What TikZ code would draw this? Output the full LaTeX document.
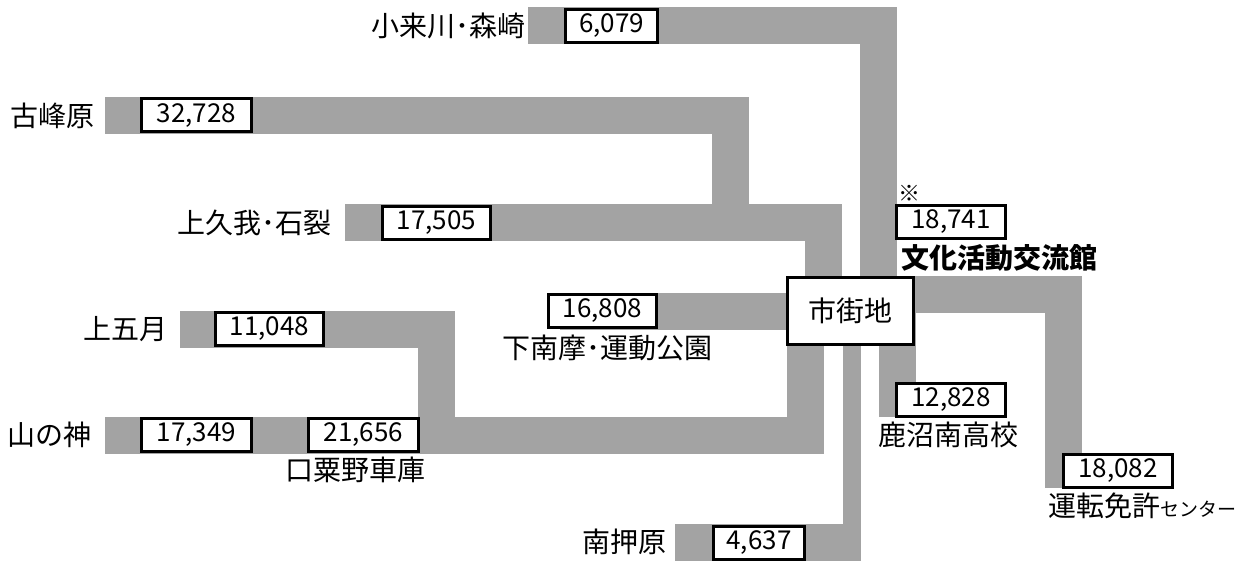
\documentclass[tikz,border=0pt]{standalone}
\usepackage{fontspec}
\setmainfont{Noto Sans CJK JP}
\definecolor{bandgray}{gray}{0.64}
\begin{document}
\begin{tikzpicture}[x=1pt,y=-1pt,
  band/.style={draw=bandgray,line width=37pt,line join=miter},
  numbox/.style={draw,line width=3pt,fill=white,inner sep=0pt,minimum height=33pt,font=\fontsize{26}{28}\selectfont},
  place/.style={inner sep=0pt,font=\fontsize{28}{30}\selectfont}]
\useasboundingbox (0,0) rectangle (1252,561);
\coordinate (cc) at (850.5,311);
% routes into the town centre
\draw[band] (528,25.5) -- (878.5,25.5) -- (878.5,25.5 |- cc);
\draw[band] (105,115.5) -- (730.5,115.5) -- (730.5,223);
\draw[band] (345,223) -- (823,223) -- (823,223 |- cc);
\draw[band] (560,311) -- (cc);
\draw[band] (180,329) -- (436,329) -- (436,435) -- (805,435) -- (805,435 |- cc);
\draw[band] (105,435) -- (436,435);
\draw[band,line width=18pt] (852,311) -- (852,542);
\draw[band] (675,542.5) -- (861,542.5);
\draw[band] (897,311) -- (897,417);
\draw[band] (cc |- 0,294) -- (1063,294) -- (1063,488);
% counts
\node[numbox,minimum width=126pt,minimum height=67pt,font=\fontsize{28}{30}\selectfont] (city) at (cc) {市街地};
\node[numbox,minimum width=92pt] (n6079) at (611.5,26) {6,079};
\node[numbox,minimum width=110pt] (n32728) at (196.5,115.5) {32,728};
\node[numbox,minimum width=108pt] (n17505) at (436.5,223) {17,505};
\node[numbox,minimum width=108pt] (n16808) at (602.5,311) {16,808};
\node[numbox,minimum width=108pt] (n11048) at (269.5,329) {11,048};
\node[numbox,minimum width=110pt] (n17349) at (196.5,435) {17,349};
\node[numbox,minimum width=110pt] (n21656) at (363.5,435) {21,656};
\node[numbox,minimum width=91pt] (n4637) at (759,542.5) {4,637};
\node[numbox,minimum width=109pt] (n12828) at (951,399.5) {12,828};
\node[numbox,minimum width=109pt] (n18741) at (951,222) {18,741};
\node[numbox,minimum width=109pt] (n18082) at (1118,470.5) {18,082};
% place names
\node[place,anchor=east] (kogawa) at (526,26) {小来川･森崎};
\node[place,anchor=east] (kobu) at (95,115.5) {古峰原};
\node[place,anchor=east] (kamikuga) at (332,223) {上久我･石裂};
\node[place,anchor=east] (satsuki) at (168,329) {上五月};
\node[place,anchor=east] (yamanokami) at (92,435) {山の神};
\node[place] (kuchiawano) at (355,470) {口粟野車庫};
\node[place] (shimonanma) at (607,348) {下南摩･運動公園};
\node[place,anchor=east] (oshihara) at (667,542) {南押原};
\node[place,anchor=west] (nankou) at (878,435) {鹿沼南高校};
\node[place,anchor=west] (menkyo) at (1048,506) {運転免許{\fontsize{19}{20}\selectfont センター}};
\node[inner sep=0pt,font=\fontsize{22}{24}\selectfont] (kome) at (909,193) {※};
\node[place,anchor=west] (bunka) at (901,258) {\bfseries 文化活動交流館};
\end{tikzpicture}
\end{document}
